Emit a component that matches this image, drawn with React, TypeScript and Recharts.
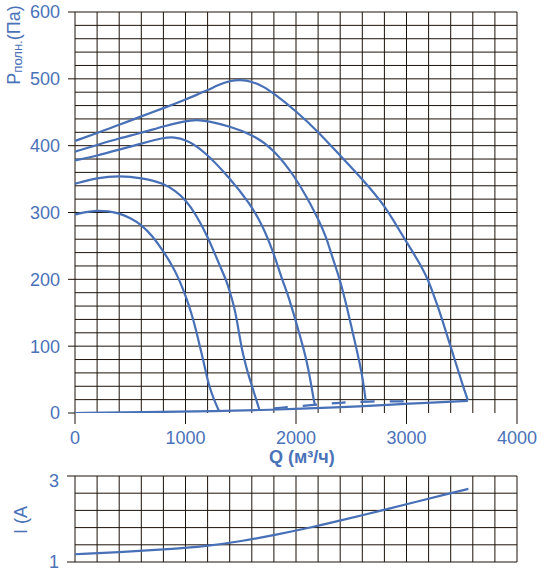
import { LineChart, Line, XAxis, YAxis, ReferenceLine } from 'recharts'

// Q in m³/h, P in Pa, I in A
const flowTicks = [0, 1000, 2000, 3000, 4000]
const pressureTicks = [0, 100, 200, 300, 400, 500, 600]
const currentTicks = [1, 3]

const flowGrid = Array.from({ length: 21 }, (_, i) => i * 200)
const pressureGrid = Array.from({ length: 30 }, (_, i) => 20 + i * 20)
const currentGrid = [1, 1.4, 1.8, 2.2, 2.6, 3]

const curve1 = [
  { q: 0, p: 407 }, { q: 200, p: 419 }, { q: 400, p: 431 }, { q: 600, p: 444 },
  { q: 800, p: 456 }, { q: 1000, p: 469 }, { q: 1100, p: 476 }, { q: 1200, p: 483 },
  { q: 1300, p: 491 }, { q: 1400, p: 497 }, { q: 1500, p: 499 }, { q: 1600, p: 496 },
  { q: 1700, p: 489 }, { q: 1800, p: 478 }, { q: 2000, p: 452 }, { q: 2200, p: 421 },
  { q: 2400, p: 385 }, { q: 2600, p: 350 }, { q: 2800, p: 311 }, { q: 2925, p: 276 },
  { q: 3060, p: 240 }, { q: 3136, p: 219 }, { q: 3194, p: 200 }, { q: 3238, p: 180 },
  { q: 3283, p: 160 }, { q: 3322, p: 140 }, { q: 3360, p: 120 }, { q: 3398, p: 100 },
  { q: 3436, p: 80 }, { q: 3474, p: 60 }, { q: 3512, p: 40 }, { q: 3555, p: 19 },
]

const curve2 = [
  { q: 0, p: 391 }, { q: 200, p: 401 }, { q: 400, p: 411 }, { q: 600, p: 419 },
  { q: 800, p: 429 }, { q: 1000, p: 437 }, { q: 1100, p: 439 }, { q: 1200, p: 437 },
  { q: 1400, p: 429 }, { q: 1600, p: 417 }, { q: 1800, p: 395 }, { q: 2000, p: 351 },
  { q: 2100, p: 322 }, { q: 2200, p: 291 }, { q: 2276, p: 262 }, { q: 2306, p: 245 },
  { q: 2352, p: 222 }, { q: 2395, p: 200 }, { q: 2428, p: 180 }, { q: 2458, p: 160 },
  { q: 2486, p: 140 }, { q: 2514, p: 120 }, { q: 2542, p: 100 }, { q: 2569, p: 80 },
  { q: 2594, p: 60 }, { q: 2614, p: 40 }, { q: 2630, p: 19 },
]

const curve3 = [
  { q: 0, p: 378 }, { q: 200, p: 385 }, { q: 400, p: 394 }, { q: 600, p: 403 },
  { q: 800, p: 412 }, { q: 900, p: 413 }, { q: 1000, p: 409 }, { q: 1150, p: 395 },
  { q: 1400, p: 352 }, { q: 1580, p: 314 }, { q: 1700, p: 280 }, { q: 1795, p: 240 },
  { q: 1835, p: 220 }, { q: 1874, p: 200 }, { q: 1920, p: 180 }, { q: 1958, p: 160 },
  { q: 1994, p: 140 }, { q: 2028, p: 120 }, { q: 2062, p: 100 }, { q: 2093, p: 80 },
  { q: 2118, p: 60 }, { q: 2140, p: 40 }, { q: 2160, p: 20 }, { q: 2170, p: 13 },
]

const curve4 = [
  { q: 0, p: 343 }, { q: 200, p: 352 }, { q: 400, p: 355 }, { q: 600, p: 352 },
  { q: 800, p: 344 }, { q: 910, p: 332 }, { q: 1000, p: 319 }, { q: 1095, p: 297 },
  { q: 1200, p: 264 }, { q: 1276, p: 234 }, { q: 1320, p: 217 }, { q: 1365, p: 200 },
  { q: 1405, p: 180 }, { q: 1438, p: 160 }, { q: 1464, p: 140 }, { q: 1484, p: 120 },
  { q: 1505, p: 100 }, { q: 1532, p: 80 }, { q: 1564, p: 60 }, { q: 1602, p: 40 },
  { q: 1640, p: 20 }, { q: 1670, p: 4 },
]

const curve5 = [
  { q: 0, p: 297 }, { q: 100, p: 301 }, { q: 200, p: 303 }, { q: 300, p: 302 },
  { q: 400, p: 299 }, { q: 500, p: 292 }, { q: 600, p: 282 }, { q: 700, p: 265 },
  { q: 800, p: 242 }, { q: 882, p: 220 }, { q: 942, p: 200 }, { q: 990, p: 180 },
  { q: 1033, p: 160 }, { q: 1070, p: 140 }, { q: 1101, p: 120 }, { q: 1130, p: 100 },
  { q: 1159, p: 80 }, { q: 1186, p: 60 }, { q: 1214, p: 40 }, { q: 1258, p: 20 },
  { q: 1303, p: 3 },
]

const baseline = [
  { q: 0, p: 0 }, { q: 600, p: 1 }, { q: 1300, p: 3 }, { q: 1700, p: 4.5 },
  { q: 2000, p: 6 }, { q: 2600, p: 10 }, { q: 3000, p: 14 }, { q: 3555, p: 18 },
]

const dashedLine = [
  { q: 1800, p: 7 }, { q: 2150, p: 12 }, { q: 2400, p: 15.5 }, { q: 2650, p: 17.5 },
  { q: 3000, p: 17.5 },
]

const current = [
  { q: 0, i: 1.18 }, { q: 400, i: 1.23 }, { q: 800, i: 1.29 }, { q: 1200, i: 1.37 },
  { q: 1520, i: 1.49 }, { q: 1830, i: 1.64 }, { q: 2150, i: 1.81 }, { q: 2460, i: 2.0 },
  { q: 2780, i: 2.2 }, { q: 3090, i: 2.4 }, { q: 3400, i: 2.6 }, { q: 3560, i: 2.7 },
]

const pressureCurves = [curve1, curve2, curve3, curve4, curve5, baseline]

const blue = '#4770b7'
const textBlue = '#4a72b9'
const gridColor = '#1d1209'
const font = '"Liberation Sans", Arial, sans-serif'
const tickStyle = { fill: textBlue, fontSize: 18, fontFamily: font }

const PressureTitle = () => (
  <text
    transform="translate(20,45) rotate(-90)"
    textAnchor="middle"
    fill={textBlue}
    fontSize={18}
    fontFamily={font}
  >
    P<tspan fontSize={13} dy={1.5}>полн.</tspan>
    <tspan dy={-1.5}>(Па)</tspan>
  </text>
)

const FlowTitle = () => (
  <text x={269} y={463} fill={textBlue} fontSize={18} fontWeight="bold" fontFamily={font}>
    Q (м³/ч)
  </text>
)

const CurrentTitle = () => (
  <text
    transform="translate(27,50) rotate(-90)"
    textAnchor="middle"
    fill={textBlue}
    fontSize={18}
    fontFamily={font}
  >
    I (A
  </text>
)

const gridLines = (yValues: number[]) => [
  ...yValues.map(v => <ReferenceLine key={'h' + v} y={v} stroke={gridColor} strokeWidth={1} />),
  ...flowGrid.map(v => <ReferenceLine key={'v' + v} x={v} stroke={gridColor} strokeWidth={1} />),
]

export default function App() {
  return (
    <div style={{ position: 'absolute', left: 0, top: 0, width: 544, height: 575, background: '#fff' }}>
      <LineChart width={544} height={470} margin={{ top: 12, right: 27, bottom: 20, left: 0 }}>
        {gridLines(pressureGrid)}
        <XAxis
          type="number"
          dataKey="q"
          domain={[0, 4000]}
          ticks={flowTicks}
          allowDataOverflow
          axisLine={false}
          tickLine={{ stroke: gridColor }}
          tickSize={11}
          tickMargin={7}
          height={37}
          tick={tickStyle}
          label={FlowTitle}
        />
        <YAxis
          type="number"
          dataKey="p"
          domain={[0, 600]}
          ticks={pressureTicks}
          allowDataOverflow
          axisLine={false}
          tickLine={{ stroke: gridColor }}
          tickSize={7}
          tickMargin={8}
          width={75}
          tick={tickStyle}
          label={PressureTitle}
        />
        {pressureCurves.map((curve, idx) => (
          <Line
            key={idx}
            data={curve}
            dataKey="p"
            type="basis"
            stroke={blue}
            strokeWidth={2.2}
            dot={false}
            activeDot={false}
            isAnimationActive={false}
          />
        ))}
        <Line
          data={dashedLine}
          dataKey="p"
          type="basis"
          stroke={blue}
          strokeWidth={2.2}
          strokeDasharray="14 15"
          dot={false}
          activeDot={false}
          isAnimationActive={false}
        />
      </LineChart>

      <LineChart width={544} height={105} margin={{ top: 6, right: 27, bottom: 13, left: 0 }}>
        {gridLines(currentGrid)}
        <XAxis type="number" dataKey="q" domain={[0, 4000]} hide />
        <YAxis
          type="number"
          dataKey="i"
          domain={[1, 3]}
          ticks={currentTicks}
          axisLine={false}
          tickLine={{ stroke: gridColor }}
          tickSize={8}
          tickMargin={8}
          width={75}
          tick={tickStyle}
          label={CurrentTitle}
        />
        <Line
          data={current}
          dataKey="i"
          type="basis"
          stroke={blue}
          strokeWidth={2.2}
          dot={false}
          activeDot={false}
          isAnimationActive={false}
        />
      </LineChart>
    </div>
  )
}
